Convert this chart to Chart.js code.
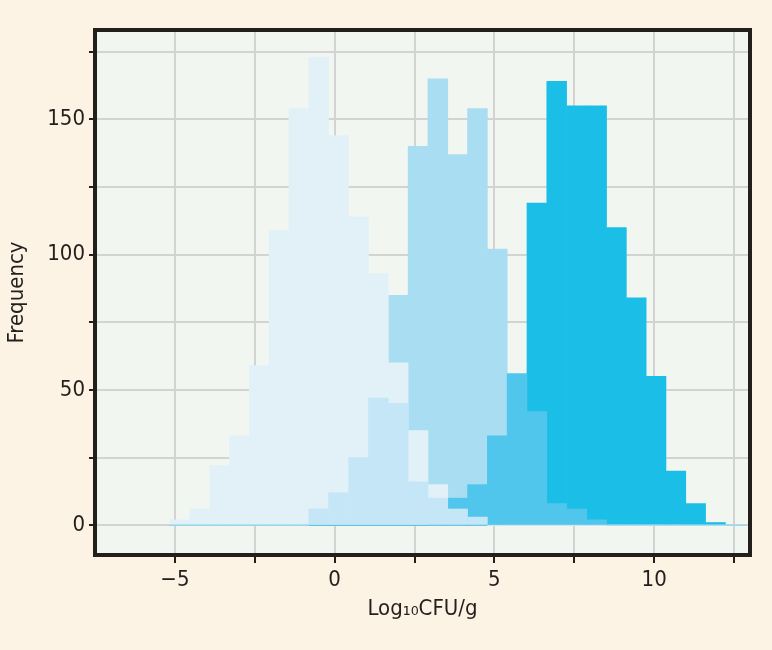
<!DOCTYPE html>
<html><head><meta charset="utf-8">
<script src="https://cdn.jsdelivr.net/npm/chart.js@4"></script>
<style>html,body{margin:0;padding:0;background:#fdf3e4}#w{width:772px;height:650px}</style>
</head><body><div id="w"><canvas id="c"></canvas></div>
<script>
const binCenters=[-4.84,-4.22,-3.60,-2.98,-2.36,-1.74,-1.12,-0.50,0.12,0.75,1.37,1.99,2.61,3.23,3.85,4.47,5.09,5.71,6.33,6.95,7.58,8.20,8.82,9.44,10.06,10.68,11.30,11.92,12.54];
// counts per bin
const seriesA=[2,6,22,33,59,109,154,173,144,114,93,60,35,15,5,1,0,0,0,0,0,0,0,0,0,0,0,0,0];
const overlapAC=[0,0,0,0,0,0,0,6,12,25,47,45,16,10,6,3,0,0,0,0,0,0,0,0,0,0,0,0,0];
const seriesC=[0,0,0,0,0,0,0,6,12,25,47,85,140,165,137,154,102,30,12,4,0,0,0,0,0,0,0,0,0];
const overlapCE=[0,0,0,0,0,0,0,0,0,0,0,0,0,2,10,15,33,56,42,8,6,2,0,0,0,0,0,0,0];
const seriesE=[0,0,0,0,0,0,0,0,0,0,0,0,0,0,0,0,8,25,119,164,155,155,110,84,55,20,8,1,0];
const yTicks=[0,50,100,150];
const xLabels=[-5,0,5,10];
const pts=a=>binCenters.map((x,i)=>({x:x,y:a[i]}));
const ds=(d,c,o)=>({data:pts(d),backgroundColor:c,borderWidth:0,barPercentage:1,categoryPercentage:1,order:o,grouped:false});
const bg={id:'bg',beforeDraw(ch){const a=ch.chartArea,x=ch.ctx;x.save();x.fillStyle='#f2f6f1';x.fillRect(a.left,a.top,a.width,a.height);x.restore();},
 afterDraw(ch){const a=ch.chartArea,x=ch.ctx;x.save();x.strokeStyle='#231f1c';x.lineWidth=4;x.strokeRect(a.left,a.top,a.width,a.height);x.restore();}};
const F="'Liberation Sans Narrow','DejaVu Sans Condensed','Roboto',sans-serif";
new Chart(document.getElementById('c'),{type:'bar',
data:{datasets:[ds(seriesA,'#e2f1f8',2),ds(overlapAC,'#c4e6f6',0),ds(seriesC,'#a8ddf2',2),ds(overlapCE,'#50c6ec',0),ds(seriesE,'#1bbee6',1)]},
options:{responsive:true,maintainAspectRatio:false,animation:false,layout:{padding:{top:30,right:22,left:0,bottom:28}},
plugins:{legend:{display:false},tooltip:{enabled:false}},
scales:{
x:{type:'linear',offset:false,min:-7.5,max:13,afterFit(s){s.height=67;},
 afterBuildTicks(s){const t=[];for(let v=-5;v<=12.5;v+=2.5)t.push({value:v});s.ticks=t;},
 grid:{offset:false,color:'#d3d3d3',lineWidth:2,tickLength:8,tickColor:'#231f1c',drawTicks:true},border:{display:false},
 ticks:{color:'#231f1c',font:{family:F,size:22},padding:4,autoSkip:false,maxRotation:0,callback:v=>xLabels.includes(v)?(v<0?'\u2212'+Math.abs(v):String(v)):''},
 title:{display:true,text:'Log\u2081\u2080CFU/g',color:'#231f1c',font:{family:F,size:22},padding:{top:0,bottom:0}}},
y:{min:-11,max:183,afterFit(s){s.width=95;},
 afterBuildTicks(s){const t=[];for(let v=0;v<=175;v+=25)t.push({value:v});s.ticks=t;},
 grid:{color:'#d3d3d3',lineWidth:2,tickLength:6,tickColor:'#231f1c'},border:{display:false},
 ticks:{color:'#231f1c',font:{family:F,size:22},padding:4,autoSkip:false,callback:v=>yTicks.includes(v)?String(v):''},
 title:{display:true,text:'Frequency',color:'#231f1c',font:{family:F,size:22},padding:{bottom:4}}}
}},plugins:[bg]});
</script></body></html>
